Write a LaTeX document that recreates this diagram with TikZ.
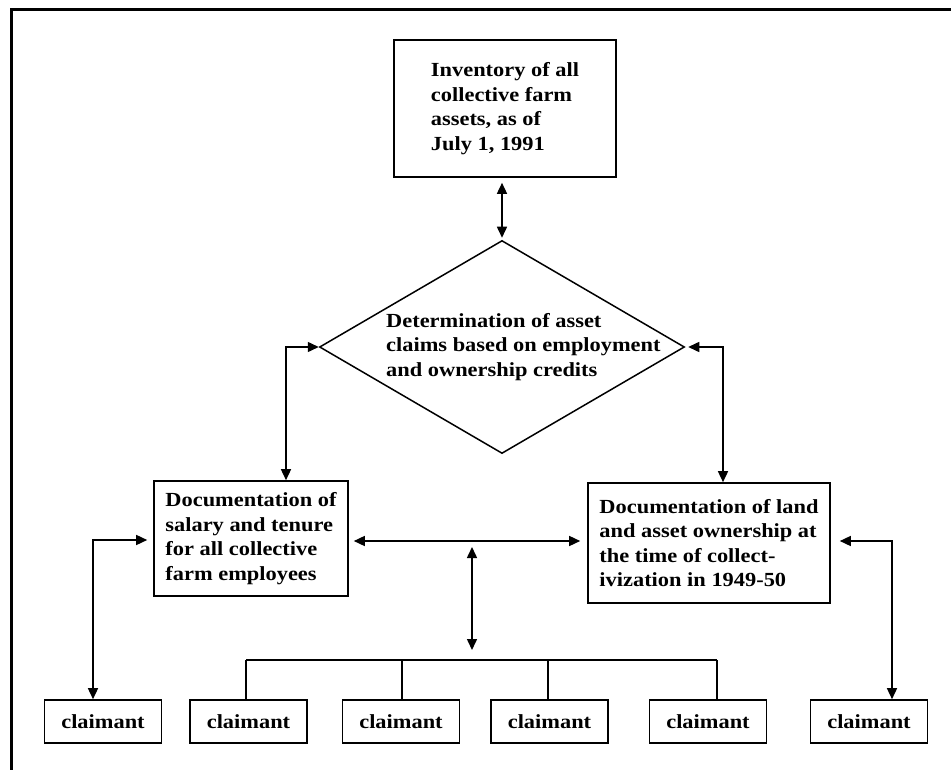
\documentclass[tikz,border=0pt]{standalone}
\usepackage{fontspec}
\setmainfont{Liberation Serif}[FakeStretch=1.12]
\usetikzlibrary{shapes.geometric,arrows.meta,calc}

\tikzset{
  frameline/.style={line width=3pt, line cap=rect},
  txt/.style={font=\fontsize{20}{24.5}\selectfont\bfseries, align=left, inner sep=0pt},
  boxnode/.style={draw, line width=1.6pt, txt},
  claimbox/.style={draw, line width=1.6pt, minimum width=117pt, minimum height=43pt,
                   font=\fontsize{20}{24.5}\selectfont\bfseries, inner sep=0pt},
  link/.style={line width=1.5pt},
  dbl/.style={link, {Triangle[length=11pt,width=10pt]}-{Triangle[length=11pt,width=10pt]}},
}

\begin{document}
\begin{tikzpicture}[x=1pt,y=-1pt]
\useasboundingbox (0,0) rectangle (951,770);

% outer frame: top and left edges
\coordinate (fr1) at (951,10);
\coordinate (fr2) at (11,10);
\coordinate (fr3) at (11,770);
\draw[frameline] (fr1) -- (fr2) -- (fr3);

% top box
\node[boxnode, minimum width=222pt, minimum height=137pt] (top) at (505,108.5)
  {Inventory of all\\collective farm\\assets, as of\\July 1, 1991};

% decision diamond and its text
\node[draw, diamond, line width=1.5pt, minimum width=365pt, minimum height=213pt, inner sep=0pt] (dia) at (502,347) {};
\node[txt, anchor=west] (diatext) at (386,347)
  {Determination of asset\\claims based on employment\\and ownership credits};

% documentation boxes
\node[boxnode, minimum width=194pt, minimum height=115pt] (ldoc) at (251,538.5)
  {Documentation of\\salary and tenure\\for all collective\\farm employees};
\node[boxnode, minimum width=242pt, minimum height=120pt] (rdoc) at (709,543)
  {Documentation of land\\and asset ownership at\\the time of collect-\\ivization in 1949-50};

% claimants
\node[claimbox] (c1) at (103,721.5) {claimant};
\node[claimbox] (c2) at (248.5,721.5) {claimant};
\node[claimbox] (c3) at (401,721.5) {claimant};
\node[claimbox] (c4) at (549.5,721.5) {claimant};
\node[claimbox] (c5) at (708,721.5) {claimant};
\node[claimbox] (c6) at (869,721.5) {claimant};

% bend and junction points
\coordinate (lbend) at (286,347);
\coordinate (rbend) at (723,347);
\coordinate (mid) at (472,541);
\coordinate (vtop) at (472,547);
\coordinate (vbot) at (472,650);
\coordinate (lcl) at (93,540);
\coordinate (rcl) at (892,541);
\coordinate (b1) at (246,660);
\coordinate (b2) at (402,660);
\coordinate (b3) at (548,660);
\coordinate (b4) at (717,660);

% connectors
\draw[dbl, shorten <=2pt, shorten >=5pt] (dia.north) -- (dia.north |- top.south);
\draw[dbl] (dia.west) -- (lbend) -- (lbend |- ldoc.north);
\draw[dbl, shorten <=3pt] (dia.east) -- (rbend) -- (rbend |- rdoc.north);
\draw[dbl, shorten <=5pt, shorten >=7pt] (ldoc.east |- mid) -- (rdoc.west |- mid);
\draw[dbl] (vtop) -- (vbot);
\draw[dbl, shorten <=6pt] (ldoc.west |- lcl) -- (lcl) -- (lcl |- c1.north);
\draw[dbl, shorten <=9pt] (rdoc.east |- rcl) -- (rcl) -- (rcl |- c6.north);

% distribution bus to the middle claimants
\draw[link] (b1) -- (b4);
\draw[link] (b1) -- (b1 |- c2.north);
\draw[link] (b2) -- (b2 |- c3.north);
\draw[link] (b3) -- (b3 |- c4.north);
\draw[link] (b4) -- (b4 |- c5.north);
\end{tikzpicture}
\end{document}
